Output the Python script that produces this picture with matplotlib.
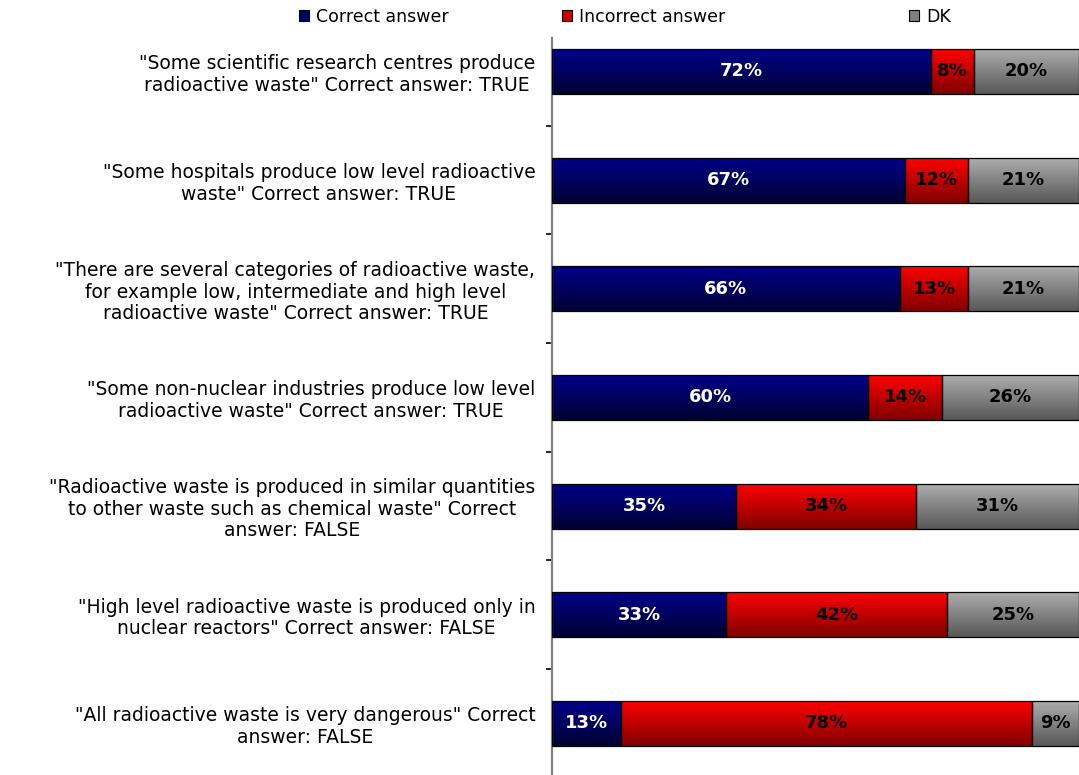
import numpy as np
import matplotlib
matplotlib.use("Agg")
import matplotlib.pyplot as plt
from matplotlib.colors import LinearSegmentedColormap
from matplotlib.patches import Patch

# Data
statements = [
    "\"Some scientific research centres produce\nradioactive waste\" Correct answer: TRUE",
    "\"Some hospitals produce low level radioactive\nwaste\" Correct answer: TRUE",
    "\"There are several categories of radioactive waste,\nfor example low, intermediate and high level\nradioactive waste\" Correct answer: TRUE",
    "\"Some non-nuclear industries produce low level\nradioactive waste\" Correct answer: TRUE",
    "\"Radioactive waste is produced in similar quantities\nto other waste such as chemical waste\" Correct\nanswer: FALSE",
    "\"High level radioactive waste is produced only in\nnuclear reactors\" Correct answer: FALSE",
    "\"All radioactive waste is very dangerous\" Correct\nanswer: FALSE",
]
correct = [72, 67, 66, 60, 35, 33, 13]
incorrect = [8, 12, 13, 14, 34, 42, 78]
dk = [20, 21, 21, 26, 31, 25, 9]
series_names = ["Correct answer", "Incorrect answer", "DK"]

# gradient colours (top, bottom) and label colours
grad_colors = [((0, 0, 0.54), (0, 0, 0.2)),
               ((1, 0, 0), (0.5, 0, 0)),
               ((0.68, 0.68, 0.68), (0.34, 0.34, 0.34))]
solid_colors = ["#000066", "#cc0000", "#808080"]
text_colors = ["white", "black", "black"]

fig = plt.figure(figsize=(10.79, 7.75), dpi=100)
ax = fig.add_axes([552 / 1079, 0, 527 / 1079, 737 / 775])

y = np.arange(len(statements))
bar_h = 0.414
grad = np.linspace(0, 1, 256).reshape(-1, 1)

left = np.zeros(len(statements))
for vals, (c_top, c_bot), tcol in zip([correct, incorrect, dk], grad_colors, text_colors):
    vals = np.array(vals)
    bars = ax.barh(y, vals, left=left, height=bar_h, facecolor="none",
                   edgecolor="black", linewidth=0.9, zorder=3)
    cmap = LinearSegmentedColormap.from_list("g", [c_top, c_bot])
    for b in bars:
        x0, y0 = b.get_x(), b.get_y()
        im = ax.imshow(grad, cmap=cmap, aspect="auto", zorder=2,
                       extent=(x0, x0 + b.get_width(), y0 + b.get_height(), y0),
                       origin="upper")
        im.set_clip_path(b)
    for yi, l, v in zip(y, left, vals):
        ax.text(l + v / 2, yi, f"{v}%", ha="center", va="center",
                fontsize=13, fontweight="bold", color=tcol, zorder=4)
    left = left + vals

ax.set_xlim(0, 100)
ax.set_ylim(6.474, -0.308)

# axes styling
for s in ["top", "right", "bottom"]:
    ax.spines[s].set_visible(False)
ax.spines["left"].set_color("#808080")
ax.spines["left"].set_linewidth(1.6)
ax.xaxis.set_visible(False)
ax.set_yticks(y)
ax.set_yticklabels(statements, fontsize=13.5, multialignment="center",
                   linespacing=1.17)
ax.tick_params(axis="y", which="major", length=0, pad=12)
ax.set_yticks(np.arange(0.5, 6, 1), minor=True)
ax.tick_params(axis="y", which="minor", length=4.5, width=1.2, color="black",
               direction="out")

# Legend
for name, col, xpos in zip(series_names, solid_colors, [299, 562, 909]):
    fig.legend(handles=[Patch(facecolor=col, edgecolor="black", linewidth=0.8)],
               labels=[name], loc="center left",
               bbox_to_anchor=(xpos / 1079, 1 - 17 / 775), frameon=False,
               fontsize=12.5, borderpad=0, borderaxespad=0,
               handlelength=0.6, handleheight=0.6, handletextpad=0.4)

fig.savefig("out.png", dpi=100)
